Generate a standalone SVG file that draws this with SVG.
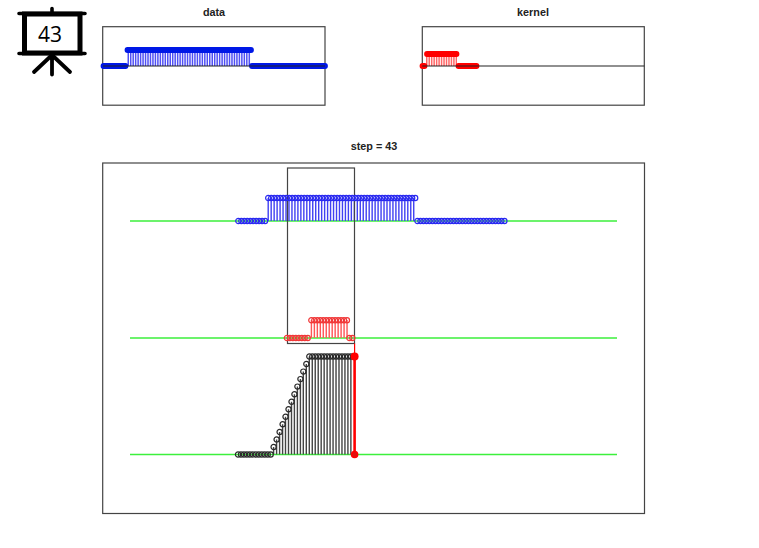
<svg xmlns="http://www.w3.org/2000/svg" width="759" height="548" viewBox="0 0 759 548">
<style>
text{font-family:"Liberation Sans",Arial,sans-serif;font-size:10.800px;font-weight:bold;fill:#222;text-anchor:middle}
.box{fill:none;stroke:#444;stroke-width:1.200}
.axis{fill:none;stroke:#222;stroke-width:1.100}
.green{fill:none;stroke:#3cf03c;stroke-width:1.300}
.icon{fill:none;stroke:#000;stroke-linecap:round}
.bb{fill:none;stroke:#0018e6;stroke-width:5.800;stroke-linecap:round}
.rb{fill:none;stroke:#f00;stroke-width:5.800;stroke-linecap:round}
.oblue{fill:none;stroke:none;marker:url(#mb)}
.ored{fill:none;stroke:none;marker:url(#mr)}
.oblack{fill:none;stroke:none;marker:url(#mk)}
</style>
<defs>
<marker id="mb" markerUnits="userSpaceOnUse" markerWidth="8" markerHeight="8" refX="4" refY="4" overflow="visible"><circle cx="4" cy="4" r="2.600" fill="none" stroke="#2a2af0" stroke-width="1.200"/></marker>
<marker id="mr" markerUnits="userSpaceOnUse" markerWidth="8" markerHeight="8" refX="4" refY="4" overflow="visible"><circle cx="4" cy="4" r="2.600" fill="none" stroke="#f03838" stroke-width="1.200"/></marker>
<marker id="mk" markerUnits="userSpaceOnUse" markerWidth="8" markerHeight="8" refX="4" refY="4" overflow="visible"><circle cx="4" cy="4" r="2.600" fill="none" stroke="#2a2a2a" stroke-width="1.200"/></marker>
</defs>
<g id="icon">
<path class="icon" stroke-width="3.600" d="M19 13.500H85M19 53.500H85M52 8.500V12"/>
<rect x="24.500" y="14" width="55.500" height="39" fill="#fff" stroke="#000" stroke-width="5"/>
<path class="icon" stroke-width="3.800" d="M52 55V74.500M52 55L34 72M52 55L70 72"/>
<text x="50" y="42" style="font-family:'Open Sans','Noto Sans',sans-serif;font-size:21px;font-weight:normal;fill:#000">43</text>
</g>
<g id="data-plot">
<text x="214" y="16">data</text>
<rect class="box" x="102.700" y="26.700" width="222.300" height="78.500"/>
<path d="M127.500 58H250.500" fill="none" stroke="#5050f4" stroke-width="16" stroke-dasharray="1.500 .970"/>
<path class="bb" d="M103.500 66H125.500M127.500 50H251M252 66H325"/>
<path class="axis" d="M103 66H325"/>
</g>
<g id="kernel-plot">
<text x="533" y="16">kernel</text>
<rect class="box" x="422.300" y="26.700" width="222" height="78.500"/>
<path d="M426 60H457" fill="none" stroke="#f66" stroke-width="12" stroke-dasharray="1.500 .970"/>
<path class="rb" d="M422.500 66H424.500M427 54H456.500M458.500 66H476.500"/>
<path class="axis" d="M422.300 66H644.300"/>
</g>
<g id="step-plot">
<text x="374" y="150">step = 43</text>
<rect class="box" x="102.700" y="163" width="541.800" height="350.500"/>
<path class="green" d="M130 221H617M130 338H617M130 454.500H617"/>
<path d="M267.500 209.500H415" fill="none" stroke="#4040f2" stroke-width="23" stroke-dasharray="1.400 1.570"/>
<path d="M310.700 329H348" fill="none" stroke="#f55" stroke-width="18" stroke-dasharray="1.400 1.570"/>
<path fill="none" stroke="#444" stroke-width="1.400" d="M273.600 447V454.500M276.600 439.400V454.500M279.600 431.900V454.500M282.600 424.300V454.500M285.500 416.800V454.500M288.500 409.300V454.500M291.500 401.700V454.500M294.400 394.200V454.500M297.400 386.600V454.500M300.400 379.100V454.500M303.300 371.600V454.500M306.300 364V454.500"/>
<path d="M308.600 405.500H353" fill="none" stroke="#444" stroke-width="98" stroke-dasharray="1.400 1.570"/>
<rect class="box" x="287.500" y="168" width="67" height="175.500"/>
<path class="oblue" d="M238.300 221h2.970h2.970h2.970h2.970h2.970h2.970h2.970h2.970h2.970"/>
<path class="oblue" d="M268.200 198h3h3h3h3h3h3h3h3h3h3h3h3h3h3h3h3h3h3h3h3h3h3h3h3h3h3h3h3h3h3h3h3h3h3h3h3h3h3h3h3h3h3h3h3h3h3h3h3h3"/>
<path class="oblue" d="M417.400 221h3h3h3h3h3h3h3h3h3h3h3h3h3h3h3h3h3h3h3h3h3h3h3h3h3h3h3h3h3"/>
<path class="ored" d="M286.900 338h2.970h2.970h2.970h2.970h2.970h2.970h2.970"/>
<path class="ored" d="M311.300 320.300h2.970h2.970h2.970h2.970h2.970h2.970h2.970h2.970h2.970h2.970h2.970h2.970"/>
<path class="ored" d="M349.300 338h2.970"/>
<path class="oblack" d="M238 454.500h2.970h2.970h2.970h2.970h2.970h2.970h2.970h2.970h2.970h2.970h2.970"/>
<path class="oblack" d="M273.600 447L276.600 439.400L279.600 431.900L282.600 424.300L285.500 416.800L288.500 409.300L291.500 401.700L294.400 394.200L297.400 386.600L300.400 379.100L303.300 371.600L306.300 364"/>
<path class="oblack" d="M309.300 356.500h2.970h2.970h2.970h2.970h2.970h2.970h2.970h2.970h2.970h2.970h2.970h2.970h2.970h2.970h2.970"/>
<path fill="none" stroke="#f00" stroke-width="1.200" d="M354.600 343.500V356.500"/>
<path fill="none" stroke="#f00" stroke-width="2.600" d="M354.600 356.500V454.500"/>
<circle cx="354.600" cy="356.500" r="4" fill="#f00"/>
<circle cx="354.600" cy="454.500" r="3" fill="#e01010" stroke="#f00" stroke-width="1.600"/>
</g>
</svg>
